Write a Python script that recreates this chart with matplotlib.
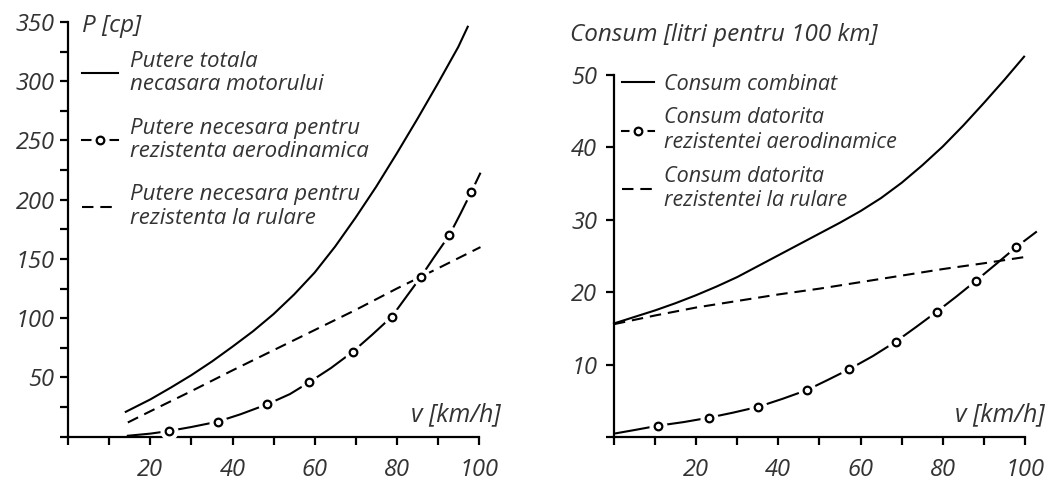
import matplotlib
matplotlib.use("Agg")
import matplotlib.pyplot as plt

plt.rcParams['font.family'] = ['Open Sans', 'DejaVu Sans']
plt.rcParams['font.style'] = 'italic'
plt.rcParams['text.color'] = '#333333'

# ---- left chart: power [cp] vs speed [km/h]
v_total_l = [14, 20, 25, 30, 35, 40, 45, 50, 55, 60, 65, 70, 75, 80, 85, 90, 95, 97.3]
p_total = [21, 31.5, 41.5, 52, 63.5, 76, 89, 103.5, 120, 138.5, 160.5, 185, 211, 239, 268,
           298, 329, 346]

v_roll_l = [14.5, 20, 30, 40, 50, 60, 70, 80, 90, 100.4]
p_roll = [12, 21.5, 38.5, 56, 73, 90, 107, 125, 142, 160]

v_aero_l = [14.5, 20, 24.5, 30, 36.4, 42, 48.5, 54, 58.7, 64, 69.3, 74, 78.8, 82, 85.8,
            89, 92.8, 95.5, 98.2, 100.3]
p_aero = [0.8, 2.6, 4.8, 8.2, 12.7, 19, 27.4, 36, 46, 58, 71.7, 86, 101.3, 116.5, 134.5,
          151, 170, 188, 206.8, 222]
v_aero_pts_l = [24.5, 36.4, 48.5, 58.7, 69.3, 78.8, 85.8, 92.8, 98.2]
p_aero_pts = [4.8, 12.7, 27.4, 46, 71.7, 101.3, 134.5, 170, 206.8]

labels_l = ['Putere totala\nnecasara motorului',
            'Putere necesara pentru\nrezistenta aerodinamica',
            'Putere necesara pentru\nrezistenta la rulare']

# ---- right chart: consumption [l/100 km] vs speed [km/h]
v_total_r = [0, 5, 10, 15, 20, 25, 30, 35, 40, 45, 50, 55, 60, 65, 70, 75, 80, 85, 90, 95, 99.8]
c_total = [15.7, 16.6, 17.5, 18.5, 19.6, 20.8, 22.1, 23.6, 25.1, 26.6, 28.1, 29.6, 31.2,
           33.0, 35.1, 37.5, 40.1, 43.0, 46.1, 49.3, 52.5]

v_roll_r = [0, 10, 20, 30, 40, 50, 60, 70, 80, 90, 100.4]
c_roll = [15.6, 16.8, 17.9, 18.8, 19.7, 20.5, 21.4, 22.3, 23.2, 24.0, 24.9]

v_aero_r = [0.5, 5, 10.8, 17, 23.1, 29, 35.1, 41, 46.9, 52, 57.3, 63, 68.6, 73.5, 78.5,
            83.3, 88.1, 93, 97.8, 102.7]
c_aero = [0.55, 1.0, 1.6, 2.1, 2.7, 3.4, 4.2, 5.3, 6.5, 7.9, 9.4, 11.2, 13.2, 15.2, 17.3,
          19.4, 21.6, 23.9, 26.2, 28.3]
v_aero_pts_r = [10.8, 23.1, 35.1, 46.9, 57.3, 68.6, 78.5, 88.1, 97.8]
c_aero_pts = [1.6, 2.7, 4.2, 6.5, 9.4, 13.2, 17.3, 21.6, 26.2]

labels_r = ['Consum combinat',
            'Consum datorita\nrezistentei aerodinamice',
            'Consum datorita\nrezistentei la rulare']

LW = 1.5
DASH = (0, (5.5, 3.3))


def draw_curves(ax, vt, yt, vr, yr, va, ya, vp, yp):
    l1, = ax.plot(vt, yt, color='black', lw=LW, clip_on=False)
    l3, = ax.plot(vr, yr, color='black', lw=LW, ls=DASH, clip_on=False)
    l2, = ax.plot(va, ya, color='black', lw=LW, clip_on=False)
    halo, = ax.plot(vp, yp, ls='none', marker='o', ms=12, mfc='white', mec='white',
                    clip_on=False, zorder=3)
    ring, = ax.plot(vp, yp, ls='none', marker='o', ms=5.5, mfc='white', mec='black',
                    mew=1.6, clip_on=False, zorder=4)
    return l1, (l2, halo, ring), l3


def style_axis(ax, ymax, yticks, ylabels, tsize):
    for s in ['top', 'right']:
        ax.spines[s].set_visible(False)
    for s in ['left', 'bottom']:
        ax.spines[s].set_linewidth(1.6)
    ax.set_xlim(0, 100)
    ax.set_ylim(0, ymax)
    ax.set_xticks(range(0, 101, 10))
    ax.set_xticklabels(['', '', '20', '', '40', '', '60', '', '80', '', '100'])
    ax.set_yticks(yticks)
    ax.set_yticklabels(ylabels)
    ax.tick_params(direction='out', length=6, width=1.6, labelsize=tsize,
                   labelcolor='#333333')
    ax.tick_params(axis='x', pad=9)
    ax.tick_params(axis='y', pad=4)


fig = plt.figure(figsize=(10.54, 4.8), dpi=100)

# left panel
ax1 = fig.add_axes([0.0648, 0.0902, 0.3895, 0.864])
h1 = draw_curves(ax1, v_total_l, p_total, v_roll_l, p_roll, v_aero_l, p_aero,
                 v_aero_pts_l, p_aero_pts)
yt1 = list(range(0, 351, 25))
style_axis(ax1, 350, yt1, [str(t) if t % 50 == 0 and t > 0 else '' for t in yt1], 17)
ax1.text(0.033, 0.99, 'P [cp]', transform=ax1.transAxes, ha='left', va='center',
         fontsize=17.5)
ax1.text(1.052, 0.052, 'v [km/h]', transform=ax1.transAxes, ha='right', va='center',
         fontsize=18)
leg1 = ax1.legend(h1, labels_l, loc='upper left', bbox_to_anchor=(82 / 1054, 1 - 51 / 480),
                  bbox_transform=fig.transFigure, frameon=False, fontsize=16,
                  handlelength=1.62, handletextpad=0.54, labelspacing=1.0, borderpad=0,
                  borderaxespad=0, numpoints=1)
for t in leg1.get_texts():
    t.set_linespacing(1.15)

# right panel
ax2 = fig.add_axes([0.5825, 0.0890, 0.3899, 0.7552])
h2 = draw_curves(ax2, v_total_r, c_total, v_roll_r, c_roll, v_aero_r, c_aero,
                 v_aero_pts_r, c_aero_pts)
yt2 = list(range(0, 51, 10))
style_axis(ax2, 50, yt2, [str(t) if t > 0 else '' for t in yt2], 17)
ax2.tick_params(axis='y', pad=6)
ax2.text(-0.107, 1.11, 'Consum [litri pentru 100 km]', transform=ax2.transAxes,
         ha='left', va='center', fontsize=17.5)
ax2.text(1.049, 0.0615, 'v [km/h]', transform=ax2.transAxes, ha='right', va='center',
         fontsize=18)
leg2 = ax2.legend(h2, labels_r, loc='upper left', bbox_to_anchor=(622 / 1054, 1 - 73.5 / 480),
                  bbox_transform=fig.transFigure, frameon=False, fontsize=15.5,
                  handlelength=1.5, handletextpad=0.45, labelspacing=0.6, borderpad=0,
                  borderaxespad=0, numpoints=1)
for t in leg2.get_texts():
    t.set_linespacing(1.22)

fig.savefig('out.png', dpi=100)
